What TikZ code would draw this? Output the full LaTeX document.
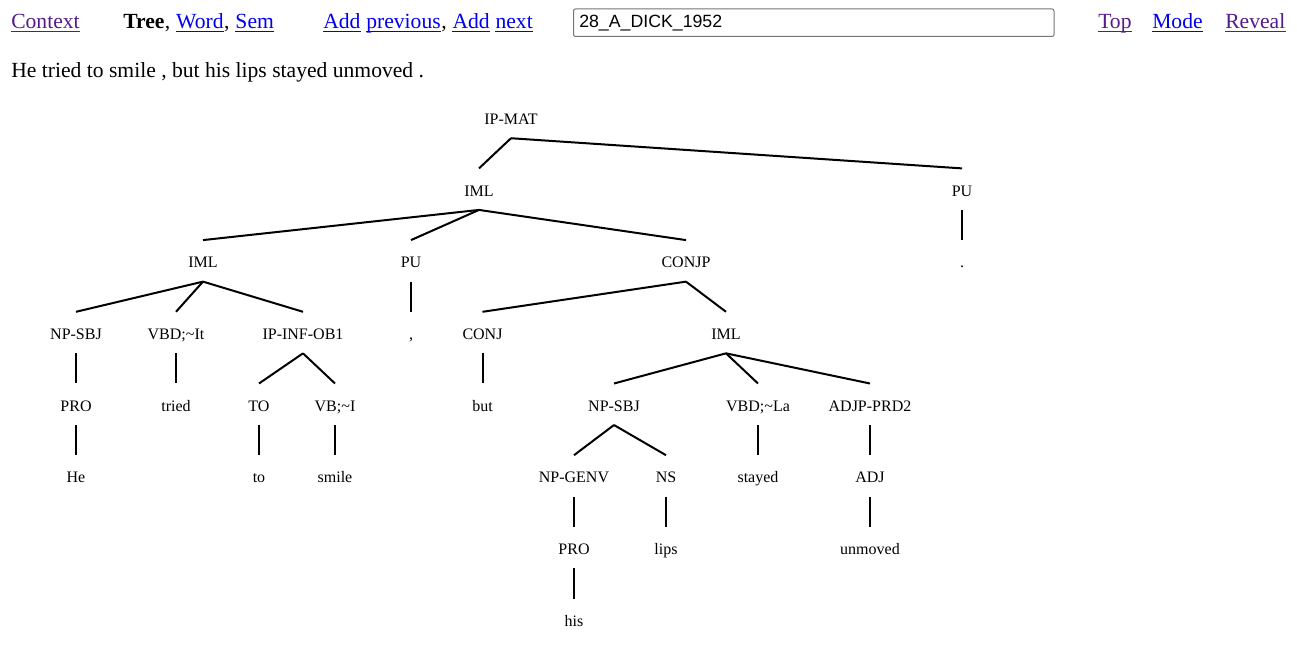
\documentclass[tikz,border=0pt]{standalone}
\usepackage{fontspec}
\setmainfont{Liberation Serif}
\newfontfamily\boxfont{Liberation Sans}
\usetikzlibrary{positioning}

\definecolor{linkblue}{HTML}{0000EE}
\definecolor{visited}{HTML}{551A8B}
\definecolor{boxgray}{HTML}{767676}

\tikzset{
  lbl/.style={anchor=base, inner xsep=1pt, inner ysep=8.25pt, text height=12.4pt, text depth=1.85pt, font=\fontsize{12}{14}\selectfont},
  edge/.style={line width=1.5pt},
  hd/.style={inner sep=0pt, font=\fontsize{16.2}{19}\selectfont},
  link/.style={hd, text=linkblue},
  seen/.style={hd, text=visited}
}

\begin{document}
\begin{tikzpicture}[x=0.75pt, y=-0.75pt]

\fill[white] (0,0) rectangle (1297,645);
\useasboundingbox (0,0) rectangle (1297,645);

% header
\node[seen, anchor=base west] (context) at (11,28.8) {Context};
\node[hd, anchor=base west, font=\fontsize{16.2}{19}\selectfont\bfseries] (tree) at (123,28.8) {Tree};
\node[hd, base right=0pt of tree] (c1) {,};
\node[link, base right=4pt of c1] (word) {Word};
\node[hd, base right=0pt of word] (c2) {,};
\node[link, base right=4pt of c2] (sem) {Sem};

\node[link, anchor=base west] (add1) at (323,28.8) {Add};
\node[link, base right=4pt of add1] (prev) {previous};
\node[hd, base right=0pt of prev] (c3) {,};
\node[link, base right=4pt of c3] (add2) {Add};
\node[link, base right=4pt of add2] (next) {next};

\draw[boxgray, line width=0.75pt, rounded corners=1.5pt] (573.5,9) rectangle (1054,36.5);
\node[inner sep=0pt, anchor=base west, font=\boxfont\fontsize{13.3}{16}\selectfont] (ident) at (579,28) {28\_A\_DICK\_1952};

\node[seen, anchor=base west] (top) at (1098,28.8) {Top};
\node[link, anchor=base west] (mode) at (1152,28.8) {Mode};
\node[seen, anchor=base west] (reveal) at (1225,28.8) {Reveal};

\foreach \n/\c in {context/visited, word/linkblue, sem/linkblue, add1/linkblue, prev/linkblue, add2/linkblue, next/linkblue, top/visited, mode/linkblue, reveal/visited}
  \draw[\c, line width=1.2pt] ([yshift=-2pt]\n.base west) -- ([yshift=-2pt]\n.base east);

\node[hd, anchor=base west] (sentence) at (11,78) {He tried to smile , but his lips stayed unmoved .};

% tree
\node[lbl] (ipmat) at (511,124.5) {IP-MAT};

\node[lbl] (iml) at (479,196.2) {IML};
\node[lbl] (pu) at (962,196.2) {PU};

\node[lbl] (imla) at (203,267.9) {IML};
\node[lbl] (pua) at (411,267.9) {PU};
\node[lbl] (conjp) at (686,267.9) {CONJP};
\node[lbl] (dot) at (962,267.9) {.};

\node[lbl] (npsbj) at (76,339.6) {NP-SBJ};
\node[lbl] (vbd) at (176,339.6) {VBD;\textasciitilde It};
\node[lbl] (ipinf) at (303,339.6) {IP-INF-OB1};
\node[lbl] (comma) at (411,339.6) {,};
\node[lbl] (conj) at (482.5,339.6) {CONJ};
\node[lbl] (imlb) at (726,339.6) {IML};

\node[lbl] (pro) at (76,411.3) {PRO};
\node[lbl] (tried) at (176,411.3) {tried};
\node[lbl] (to) at (259,411.3) {TO};
\node[lbl] (vb) at (335,411.3) {VB;\textasciitilde I};
\node[lbl] (but) at (482.5,411.3) {but};
\node[lbl] (npsbjb) at (614,411.3) {NP-SBJ};
\node[lbl] (vbdb) at (758,411.3) {VBD;\textasciitilde La};
\node[lbl] (adjp) at (870,411.3) {ADJP-PRD2};

\node[lbl] (he) at (76,483) {He};
\node[lbl] (tow) at (259,483) {to};
\node[lbl] (smile) at (335,483) {smile};
\node[lbl] (npgen) at (574,483) {NP-GENV};
\node[lbl] (ns) at (666,483) {NS};
\node[lbl] (stayed) at (758,483) {stayed};
\node[lbl] (adj) at (870,483) {ADJ};

\node[lbl] (prob) at (574,554.7) {PRO};
\node[lbl] (lips) at (666,554.7) {lips};
\node[lbl] (unmoved) at (870,554.7) {unmoved};

\node[lbl] (his) at (574,626.4) {his};

\foreach \a/\b in {ipmat/iml, ipmat/pu, iml/imla, iml/pua, iml/conjp, pu/dot,
  imla/npsbj, imla/vbd, imla/ipinf, pua/comma, conjp/conj, conjp/imlb,
  npsbj/pro, vbd/tried, ipinf/to, ipinf/vb, conj/but, imlb/npsbjb, imlb/vbdb, imlb/adjp,
  pro/he, to/tow, vb/smile, npsbjb/npgen, npsbjb/ns, vbdb/stayed, adjp/adj,
  npgen/prob, ns/lips, adj/unmoved, prob/his}
  \draw[edge] (\a.south) -- (\b.north);

\end{tikzpicture}
\end{document}
